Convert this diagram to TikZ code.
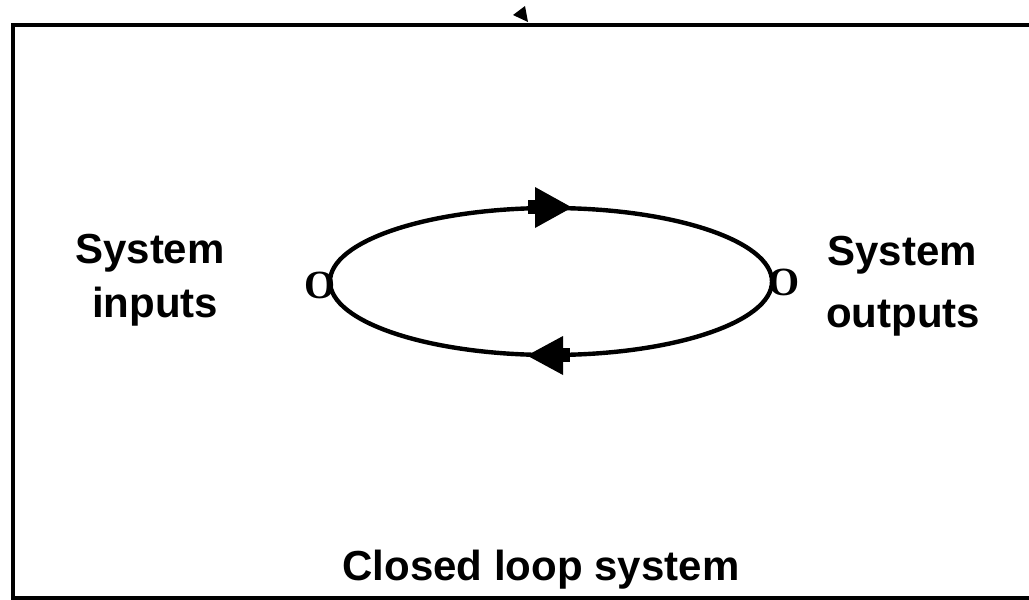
\documentclass[tikz,border=0pt]{standalone}
\usepackage{fontspec}
\setmainfont{Liberation Sans}
\newfontfamily\serifO{Liberation Serif}
\begin{document}
\begin{tikzpicture}[x=1pt,y=-1pt,
  lbl/.style={font=\fontsize{42}{50}\selectfont\bfseries, anchor=base, inner sep=0pt},
  olbl/.style={font=\fontsize{40}{50}\selectfont\serifO\bfseries, anchor=base, inner sep=0pt},
  thick4/.style={line width=4.4pt},
  headfill/.style={fill=black, draw=none}]
\clip (0,0) rectangle (1029,600);
\fill[white] (0,0) rectangle (1029,600);
% frame
\draw[thick4] (13,25) rectangle (1060,598);
% small triangle on top edge
\fill (513,15) -- (525,6) -- (528,22) -- cycle;
% loop
\coordinate (c) at (551,281.5);
\draw[thick4] (c) ellipse [x radius=221, y radius=73.5];
% top arrowhead (pointing right)
\path[headfill] (528,200) rectangle (537,214);
\path[headfill] (535,187) -- (572,207.5) -- (535,228) -- cycle;
% bottom arrowhead (pointing left)
\path[headfill] (562,348) rectangle (570,362);
\path[headfill] (563,336) -- (527,355.5) -- (563,375) -- cycle;
% O markers
\node[olbl] (oin) at (320,298) {O};
\node[olbl] (oout) at (784,295) {O};
% labels
\node[lbl] (in1) at (150,263) {System};
\node[lbl] (in2) at (155,317) {inputs};
\node[lbl] (out1) at (902,265) {System};
\node[lbl] (out2) at (903,327) {outputs};
\node[lbl] (title) at (541,580) {Closed loop system};
\end{tikzpicture}
\end{document}
